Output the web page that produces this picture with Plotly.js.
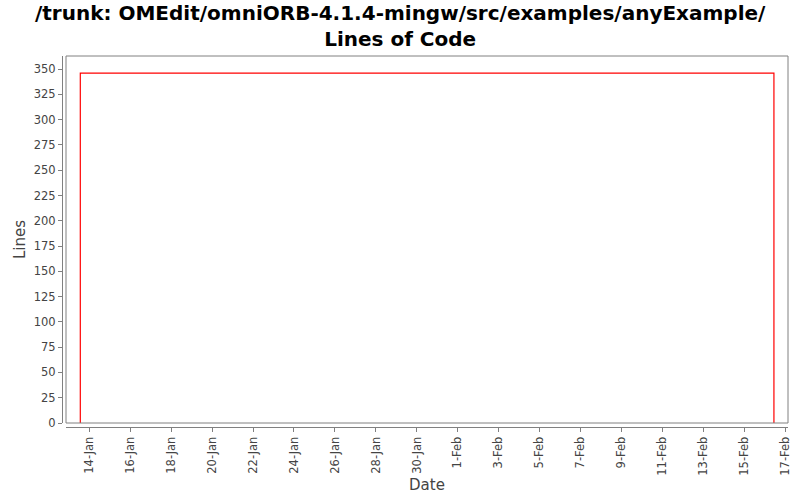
<!DOCTYPE html>
<html>
<head>
<meta charset="utf-8">
<script src="https://cdn.plot.ly/plotly-3.0.1.min.js"></script>
<style>
  html, body { margin: 0; padding: 0; background: #fff; }
  #chart { width: 800px; height: 500px; }
</style>
</head>
<body>
<div id="chart"></div>
<script>
// lines of code over time (step: appears, stays, goes)
var dates = ['2011-01-13 13:26', '2011-01-13 13:26', '2011-02-16 10:50', '2011-02-16 10:50'];
var lines = [0, 346, 346, 0];

var xRange = ['2011-01-12 20:40', '2011-02-17 03:20'];
var yRange = [0, 363];
var yTicks = [0, 25, 50, 75, 100, 125, 150, 175, 200, 225, 250, 275, 300, 325, 350];

var chartTitle = '<b>/trunk: OMEdit/omniORB-4.1.4-mingw/src/examples/anyExample/<br>Lines of Code</b>';

var chart = document.getElementById('chart');

var trace1 = {
    type: 'scatter',
    mode: 'lines',
    x: dates,
    y: lines,
    line: {color: '#FF0000', width: 1.2},
    showlegend: false,
    hoverinfo: 'x+y'
};

var axisFont = {family: 'DejaVu Sans', size: 11.5, color: '#444444'};
var titleFont = {family: 'DejaVu Sans', size: 15, color: '#444444'};

var layout = {
    width: 800,
    height: 500,
    paper_bgcolor: '#FFFFFF',
    plot_bgcolor: '#FFFFFF',
    margin: {l: 62, r: 12, t: 56, b: 73},
    // title drawn as an annotation so both lines stay inside the picture
    annotations: [{
        text: chartTitle,
        font: {family: 'DejaVu Sans', size: 20, color: '#000000'},
        xref: 'paper',
        yref: 'paper',
        x: (400 - 62) / 726,
        y: 1 + 57 / 371,
        xanchor: 'center',
        yanchor: 'top',
        showarrow: false
    }],
    xaxis: {
        type: 'date',
        range: xRange,
        domain: [4 / 726, 1],
        anchor: 'free',
        position: 0,
        tick0: '2011-01-14',
        dtick: 2 * 86400000,
        tickformat: '%-d-%b',
        tickangle: -90,
        ticks: 'outside',
        ticklen: 4,
        tickcolor: '#808080',
        tickfont: axisFont,
        showline: true,
        linecolor: '#808080',
        linewidth: 1,
        showgrid: false,
        zeroline: false,
        title: {text: 'Date', font: titleFont, standoff: 4}
    },
    yaxis: {
        range: yRange,
        domain: [4 / 371, 1],
        anchor: 'free',
        position: 0,
        tickvals: yTicks,
        ticks: 'outside',
        ticklen: 4,
        tickcolor: '#808080',
        tickfont: axisFont,
        showline: true,
        linecolor: '#808080',
        linewidth: 1,
        showgrid: false,
        zeroline: false,
        title: {text: 'Lines', font: titleFont, standoff: 3}
    },
    shapes: [{
        type: 'rect',
        xref: 'x domain',
        yref: 'y domain',
        x0: 0, x1: 1, y0: 0, y1: 1,
        line: {color: '#808080', width: 1},
        fillcolor: 'rgba(0,0,0,0)',
        layer: 'above'
    }]
};

Plotly.newPlot(chart, [trace1], layout, {displayModeBar: false});
</script>
</body>
</html>
